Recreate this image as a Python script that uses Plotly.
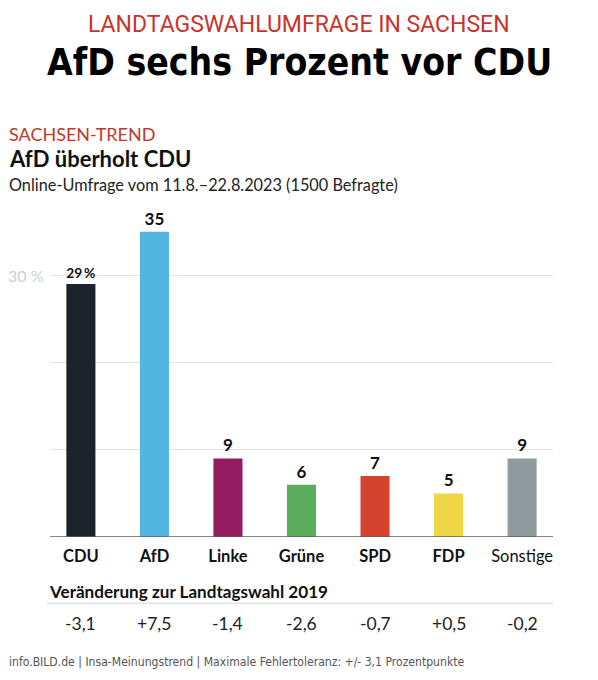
import plotly.graph_objects as go

# ---- data ----
parties = ["CDU", "AfD", "Linke", "Grüne", "SPD", "FDP", "Sonstige"]
values = [29, 35, 9, 6, 7, 5, 9]
changes = ["-3,1", "+7,5", "-1,4", "-2,6", "-0,7", "+0,5", "-0,2"]
colors = ["#1c232a", "#52b6e0", "#931c5e", "#5cad5c", "#d4432f", "#efd645", "#8f9a9c"]
grid_vals = [10, 20, 30]
grid_label = "30 %"

OFF = 8  # page body margin
W, H = 598 - OFF, 680 - OFF
L, R, T, B = 50 - OFF, 598 - 553, 187.5 - OFF, 680 - 537.5
PW, PH = W - L - R, H - T - B

def px(x):
    return (x - OFF - L) / PW

def py(y):
    return (H - B - (y - OFF)) / PH

labels = [f"{v}\u2009%" if i == 0 else f"{v}" for i, v in enumerate(values)]
ticktext = [f"<b>{p}</b>" if p != "Sonstige" else p for p in parties]

fig = go.Figure()
fig.add_trace(go.Bar(
    x=list(range(len(parties))), y=values,
    marker=dict(color=colors, line=dict(width=0)),
    width=0.395,
    text=labels, textposition="outside",
    textfont=dict(family="Lato", size=17, color="#111111", weight="bold"),
    cliponaxis=False,
    hoverinfo="skip",
))

font_main = "Lato"

ann = []
def add(text, x, y, size, color="#111111", family=font_main, xanchor="left", weight="normal",
        xref="paper", yanchor="middle", yref="paper"):
    ann.append(dict(text=text, x=x, y=y, xref=xref, yref=yref, showarrow=False,
                    xanchor=xanchor, yanchor=yanchor,
                    font=dict(family=family, size=size, color=color, weight=weight)))

add("LANDTAGSWAHLUMFRAGE IN SACHSEN", px(299), (H - B) / PH, 23, color="#c8342c",
    family="Roboto", xanchor="center", yanchor="top")
add("AfD sechs Prozent vor CDU", px(299), py(62), 37, color="#000000",
    family="DejaVu Sans Condensed", xanchor="center", weight="bold")
add("SACHSEN-TREND", px(7), py(133), 18, color="#c0392b")
add("AfD überholt CDU", px(7), py(158), 22, weight="bold")
add("Online-Umfrage vom 11.8.–22.8.2023 (1500 Befragte)", px(7), py(184), 16.3, color="#222222")
add(grid_label, px(46), grid_vals[-1], 16, color="#c5d0d6", xanchor="right", yref="y")
add("Veränderung zur Landtagswahl 2019", px(47), py(592), 17.1, weight="bold")
for i, c in enumerate(changes):
    add(c, i, py(624), 17.5, color="#222222", xanchor="center", xref="x")
add("info.BILD.de | Insa-Meinungstrend | Maximale Fehlertoleranz: +/- 3,1 Prozentpunkte",
    px(7), py(663), 12.1, color="#555555", family="DejaVu Sans Condensed")

shapes = [
    dict(type="line", xref="paper", yref="y", x0=0, x1=1, y0=0, y1=0,
         line=dict(color="#5a5f63", width=1.5)),
    dict(type="line", xref="paper", yref="paper", x0=px(47), x1=px(553), y0=py(604), y1=py(604),
         line=dict(color="#e3e6e8", width=2)),
]

fig.update_layout(
    width=W, height=H,
    margin=dict(l=L, r=R, t=T, b=B, pad=0),
    paper_bgcolor="white", plot_bgcolor="white",
    showlegend=False,
    annotations=ann, shapes=shapes,
    xaxis=dict(range=[-0.42, 6.42], tickvals=list(range(len(parties))), ticktext=ticktext,
               tickfont=dict(family=font_main, size=16.5, color="#111111"),
               ticklabelstandoff=7,
               showgrid=False, zeroline=False, showline=False, ticks="", ticklen=0,
               fixedrange=True),
    yaxis=dict(range=[0, 40], tickvals=grid_vals, showticklabels=False,
               showgrid=True, gridcolor="#dfe4e7", gridwidth=1.2,
               zeroline=False, showline=False, ticks="", fixedrange=True),
    bargap=0.6,
)

fig.write_html("out.html")
